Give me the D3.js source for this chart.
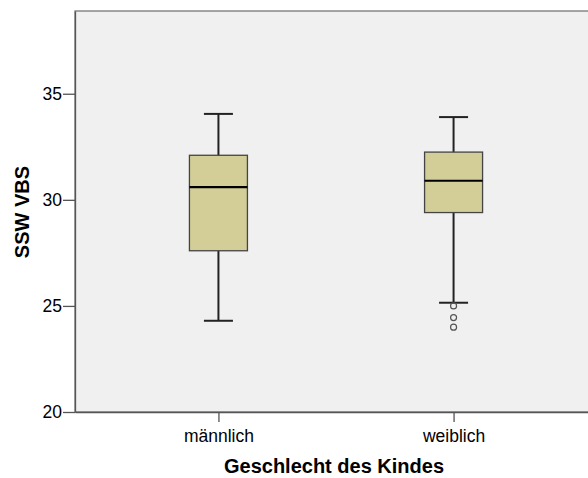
<!DOCTYPE html>
<html>
<head>
<meta charset="utf-8">
<script src="https://cdn.jsdelivr.net/npm/d3@7"></script>
<style>
  body { margin: 0; background: #fff; }
  svg { display: block; font-family: "Liberation Sans", Arial, sans-serif; }
</style>
</head>
<body>
<svg id="chart" width="588" height="478"></svg>
<script>
// Data
const categories = ["männlich", "weiblich"];
const whiskerLow = [24.3, 25.15];
const q1 = [27.6, 29.4];
const median = [30.6, 30.9];
const q3 = [32.1, 32.25];
const whiskerHigh = [34.05, 33.9];
const outliers = [[], [25.0, 24.45, 24.0]];
const yTicks = [20, 25, 30, 35];

const boxes = categories.map((c, i) => ({
  cat: c,
  low: whiskerLow[i],
  q1: q1[i],
  med: median[i],
  q3: q3[i],
  high: whiskerHigh[i],
  out: outliers[i]
}));

// Layout
const plot = { left: 75, right: 597, top: 11, bottom: 412 };
const boxWidth = 58;
const capWidth = 29;

const svg = d3.select("#chart");

const x = d3
  .scalePoint()
  .domain(categories)
  .range([plot.left, plot.right])
  .padding(0.61);

const y = d3
  .scaleLinear()
  .domain([20, 38.9])
  .range([plot.bottom, plot.top]);

// Plot background
svg
  .append("rect")
  .attr("x", plot.left)
  .attr("y", plot.top)
  .attr("width", plot.right - plot.left)
  .attr("height", plot.bottom - plot.top)
  .attr("fill", "#f0f0f0")
  .attr("stroke", "#777")
  .attr("stroke-width", 1.3);

// Axes
const yAxis = svg
  .append("g")
  .attr("transform", `translate(${plot.left}, 0)`)
  .call(
    d3.axisLeft(y).tickValues(yTicks).tickSizeInner(12).tickSizeOuter(0).tickPadding(1)
  );

const xAxis = svg
  .append("g")
  .attr("transform", `translate(0, ${plot.bottom})`)
  .call(d3.axisBottom(x).tickSizeInner(10).tickSizeOuter(0).tickPadding(8));

[yAxis, xAxis].forEach((g) => {
  g.select(".domain").attr("stroke", "#555").attr("stroke-width", 1.3);
  g.selectAll(".tick line").attr("stroke", "#555").attr("stroke-width", 1.3);
  g.selectAll(".tick text")
    .attr("fill", "#000")
    .style("font-size", "17.5px")
    .style("font-family", "'Liberation Sans', Arial, sans-serif");
});

// Boxplots
const g = svg
  .append("g")
  .selectAll("g")
  .data(boxes)
  .enter()
  .append("g");

// whisker stems
g.append("line")
  .attr("x1", (d) => x(d.cat))
  .attr("x2", (d) => x(d.cat))
  .attr("y1", (d) => y(d.low))
  .attr("y2", (d) => y(d.high))
  .attr("stroke", "#222")
  .attr("stroke-width", 2);

// whisker caps
["low", "high"].forEach((k) => {
  g.append("line")
    .attr("x1", (d) => x(d.cat) - capWidth / 2)
    .attr("x2", (d) => x(d.cat) + capWidth / 2)
    .attr("y1", (d) => y(d[k]))
    .attr("y2", (d) => y(d[k]))
    .attr("stroke", "#222")
    .attr("stroke-width", 2);
});

// box
g.append("rect")
  .attr("x", (d) => x(d.cat) - boxWidth / 2)
  .attr("y", (d) => y(d.q3))
  .attr("width", boxWidth)
  .attr("height", (d) => y(d.q1) - y(d.q3))
  .attr("fill", "#d3ce97")
  .attr("stroke", "#444")
  .attr("stroke-width", 1.3);

// median
g.append("line")
  .attr("x1", (d) => x(d.cat) - boxWidth / 2)
  .attr("x2", (d) => x(d.cat) + boxWidth / 2)
  .attr("y1", (d) => y(d.med))
  .attr("y2", (d) => y(d.med))
  .attr("stroke", "#000")
  .attr("stroke-width", 2.2);

// outliers
g.selectAll("circle")
  .data((d) => d.out.map((v) => ({ cat: d.cat, v })))
  .enter()
  .append("circle")
  .attr("cx", (d) => x(d.cat))
  .attr("cy", (d) => y(d.v))
  .attr("r", 3)
  .attr("fill", "none")
  .attr("stroke", "#555")
  .attr("stroke-width", 1.2);

// Axis titles
svg
  .append("text")
  .attr("x", (plot.left + plot.right) / 2 - 2)
  .attr("y", 473)
  .attr("text-anchor", "middle")
  .style("font-size", "20px")
  .style("font-weight", "bold")
  .text("Geschlecht des Kindes");

svg
  .append("text")
  .attr("transform", `translate(29, ${212}) rotate(-90)`)
  .attr("text-anchor", "middle")
  .style("font-size", "20px")
  .style("font-weight", "bold")
  .text("SSW VBS");
</script>
</body>
</html>
